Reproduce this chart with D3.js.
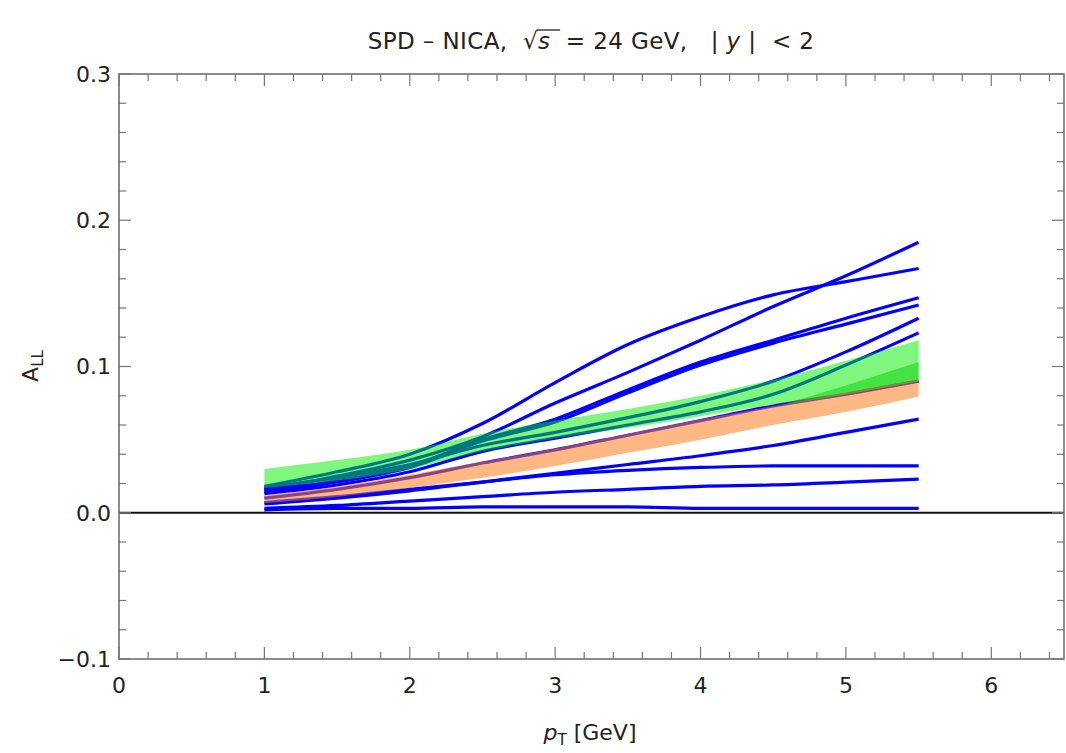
<!DOCTYPE html>
<html>
<head>
<meta charset="utf-8">
<script src="https://cdn.jsdelivr.net/npm/d3@7"></script>
<style>
  body { margin: 0; background: #fff; }
  text { font-family: "DejaVu Sans", "Liberation Sans", Arial, sans-serif; fill: #222; }
</style>
</head>
<body>
<script>
// pT sample points shared by all curves
var ptValues = [1.0, 1.5, 2.0, 2.5, 3.0, 3.5, 4.0, 4.5, 5.0, 5.5];

// blue model curves, A_LL at each pT
var curveA = [0.016, 0.025, 0.036, 0.052, 0.075, 0.096, 0.118, 0.141, 0.162, 0.185];
var curveB = [0.018, 0.028, 0.040, 0.061, 0.089, 0.115, 0.134, 0.149, 0.158, 0.167];
var curveC = [0.015, 0.022, 0.032, 0.050, 0.064, 0.084, 0.103, 0.118, 0.133, 0.147];
var curveD = [0.014, 0.021, 0.031, 0.049, 0.062, 0.082, 0.101, 0.116, 0.129, 0.142];
var curveE = [0.017, 0.024, 0.033, 0.046, 0.055, 0.065, 0.076, 0.090, 0.110, 0.133];
var curveF = [0.013, 0.019, 0.028, 0.042, 0.051, 0.060, 0.069, 0.081, 0.101, 0.123];
var curveG = [0.010, 0.016, 0.024, 0.034, 0.043, 0.053, 0.063, 0.073, 0.081, 0.090];
var curveH = [0.006, 0.010, 0.015, 0.021, 0.027, 0.033, 0.039, 0.046, 0.055, 0.064];
var curveI = [0.007, 0.011, 0.016, 0.021, 0.026, 0.029, 0.031, 0.032, 0.032, 0.032];
var curveJ = [0.003, 0.005, 0.008, 0.011, 0.014, 0.016, 0.018, 0.019, 0.021, 0.023];
var curveK = [0.002, 0.003, 0.003, 0.004, 0.004, 0.004, 0.003, 0.003, 0.003, 0.003];
var blueCurves = [curveA, curveB, curveC, curveD, curveE, curveF, curveG, curveH, curveI, curveJ, curveK];

// green uncertainty band
var greenUpper = [0.030, 0.036, 0.043, 0.054, 0.063, 0.071, 0.080, 0.091, 0.104, 0.118];
var greenLower = [0.017, 0.022, 0.030, 0.042, 0.051, 0.058, 0.066, 0.074, 0.081, 0.090];
// second (overlapping) green band at high pT
var green2Pt = [4.6, 5.0, 5.5];
var green2Upper = [0.075, 0.087, 0.103];
var green2Lower = [0.074, 0.081, 0.090];

// orange uncertainty band
var orangeUpper = [0.012, 0.018, 0.026, 0.035, 0.044, 0.054, 0.064, 0.073, 0.082, 0.091];
var orangeLower = [0.0066, 0.011, 0.017, 0.024, 0.032, 0.041, 0.050, 0.060, 0.069, 0.0795];

// axis ticks
var xTicks = [0, 1, 2, 3, 4, 5, 6];
var yTicks = [-0.1, 0.0, 0.1, 0.2, 0.3];
var yTickLabels = ["\u22120.1", "0.0", "0.1", "0.2", "0.3"];

// set the dimensions and margins of the graph
var margin = {top: 74, right: 2, bottom: 94, left: 119},
    width = 1066 - margin.left - margin.right,
    height = 753 - margin.top - margin.bottom;

var x = d3.scaleLinear().domain([0, 6.5]).range([0, width]);
var y = d3.scaleLinear().domain([-0.1, 0.3]).range([height, 0]);

var svg = d3.select("body").append("svg")
    .attr("width", 1066)
    .attr("height", 753);
var g = svg.append("g")
    .attr("transform", "translate(" + margin.left + "," + margin.top + ")");

var line = d3.line()
    .x(function (d, i) { return x(ptValues[i]); })
    .y(function (d) { return y(d); })
    .curve(d3.curveMonotoneX);

function band(xs, lo, hi) {
    return d3.area()
        .x(function (d, i) { return x(xs[i]); })
        .y0(function (d, i) { return y(lo[i]); })
        .y1(function (d, i) { return y(hi[i]); })
        .curve(d3.curveMonotoneX)(hi);
}

// blue curves first, bands are see-through on top
blueCurves.forEach(function (c) {
    g.append("path")
        .attr("d", line(c))
        .attr("fill", "none")
        .attr("stroke", "rgb(0,0,255)")
        .attr("stroke-width", 3.2)
        .attr("stroke-linejoin", "round");
});

g.append("path").attr("d", band(ptValues, greenLower, greenUpper))
    .attr("fill", "rgb(0,240,0)").attr("fill-opacity", 0.5);
g.append("path").attr("d", band(green2Pt, green2Lower, green2Upper))
    .attr("fill", "rgb(0,200,0)").attr("fill-opacity", 0.45);
g.append("path").attr("d", band(ptValues, orangeLower, orangeUpper))
    .attr("fill", "rgb(255,125,30)").attr("fill-opacity", 0.55);

// zero line
g.append("line")
    .attr("x1", 0).attr("x2", width)
    .attr("y1", y(0)).attr("y2", y(0))
    .attr("stroke", "#111").attr("stroke-width", 2);

// frame
g.append("rect")
    .attr("width", width).attr("height", height)
    .attr("fill", "none").attr("stroke", "#666").attr("stroke-width", 1.5);

// ticks on all four sides, pointing inwards
var xMinor = d3.range(0, 6.51, 0.2);
var yMinor = d3.range(-0.1, 0.301, 0.02);
xMinor.forEach(function (v) {
    var major = Math.abs(v - Math.round(v)) < 1e-6;
    var len = major ? 12 : 7;
    g.append("line").attr("x1", x(v)).attr("x2", x(v)).attr("y1", height).attr("y2", height - len)
        .attr("stroke", "#777").attr("stroke-width", 1.2);
    g.append("line").attr("x1", x(v)).attr("x2", x(v)).attr("y1", 0).attr("y2", len)
        .attr("stroke", "#777").attr("stroke-width", 1.2);
});
yMinor.forEach(function (v) {
    var major = Math.abs(v * 10 - Math.round(v * 10)) < 1e-6;
    var len = major ? 12 : 7;
    g.append("line").attr("x1", 0).attr("x2", len).attr("y1", y(v)).attr("y2", y(v))
        .attr("stroke", "#777").attr("stroke-width", 1.2);
    g.append("line").attr("x1", width).attr("x2", width - len).attr("y1", y(v)).attr("y2", y(v))
        .attr("stroke", "#777").attr("stroke-width", 1.2);
});

// tick labels
g.selectAll(".xlab")
    .data(xTicks)
    .enter()
    .append("text")
    .attr("x", function (d) { return x(d); })
    .attr("y", height + 34)
    .attr("text-anchor", "middle")
    .style("font-size", "22px")
    .text(function (d) { return d; });

g.selectAll(".ylab")
    .data(yTicks)
    .enter()
    .append("text")
    .attr("x", -8)
    .attr("y", function (d) { return y(d); })
    .attr("dy", "0.36em")
    .attr("text-anchor", "end")
    .style("font-size", "22px")
    .text(function (d, i) { return yTickLabels[i]; });

// axis titles
var xt = svg.append("text")
    .attr("x", 590).attr("y", 740)
    .attr("text-anchor", "middle")
    .style("font-size", "22px");
xt.append("tspan").style("font-style", "italic").text("p");
xt.append("tspan").attr("dy", 5).style("font-size", "15px").text("T");
xt.append("tspan").attr("dy", -5).text(" [GeV]");

var yt = svg.append("text")
    .attr("transform", "translate(38,366) rotate(-90)")
    .attr("text-anchor", "middle")
    .style("font-size", "22px");
yt.append("tspan").text("A");
yt.append("tspan").attr("dy", 5).style("font-size", "15px").text("LL");

// title
var title = svg.append("text")
    .attr("x", 591).attr("y", 49)
    .attr("text-anchor", "middle")
    .style("font-size", "23px")
    .style("letter-spacing", "0.4px")
    .style("white-space", "pre");
title.append("tspan").text("SPD \u2013 NICA,  \u221A");
title.append("tspan").style("font-style", "italic").text("s ");
title.append("tspan").text(" = 24 GeV,   | ");
title.append("tspan").style("font-style", "italic").text("y");
title.append("tspan").text(" |  < 2");

// overline of the square root
var tnode = title.node();
var full = tnode.textContent;
var rootIdx = full.indexOf("\u221A");
var rb = tnode.getExtentOfChar(rootIdx);
var sb = tnode.getExtentOfChar(rootIdx + 2);
svg.append("line")
    .attr("x1", rb.x + rb.width - 1).attr("x2", sb.x + sb.width + 2)
    .attr("y1", rb.y + 2).attr("y2", rb.y + 2)
    .attr("stroke", "#222").attr("stroke-width", 1.3);
</script>
</body>
</html>
